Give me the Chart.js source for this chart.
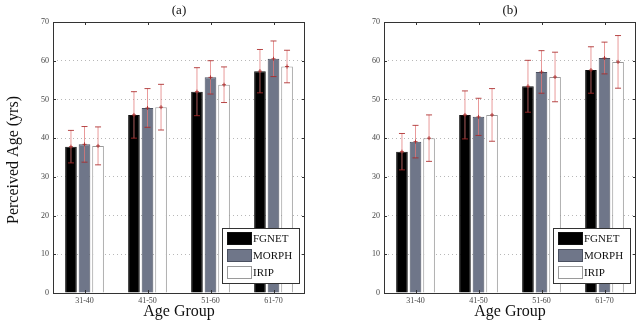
<!DOCTYPE html>
<html>
<head>
<meta charset="utf-8">
<script src="https://cdn.jsdelivr.net/npm/chart.js@4.4.1/dist/chart.umd.min.js"></script>
<style>
  html, body { margin: 0; padding: 0; background: #fff; }
  #wrap { position: relative; width: 640px; height: 321px; overflow: hidden; }
  canvas { position: absolute; top: 0; }
  #ca { left: 0; }
  #cb { left: 320px; }
</style>
</head>
<body>
<div id="wrap">
  <canvas id="ca" width="320" height="321"></canvas>
  <canvas id="cb" width="320" height="321"></canvas>
</div>
<script>
// ---- data ----
const categories = ['31-40', '41-50', '51-60', '61-70'];
const seriesNames = ['FGNET', 'MORPH', 'IRIP'];
const yTicks = [0, 10, 20, 30, 40, 50, 60, 70];

const aFGNET = [37.8, 46.0, 52.0, 57.3];
const aFGNETerr = [4.2, 6.0, 6.2, 5.6];
const aMORPH = [38.4, 47.8, 55.7, 60.5];
const aMORPHerr = [4.6, 5.0, 4.3, 4.6];
const aIRIP = [38.0, 48.0, 53.8, 58.5];
const aIRIPerr = [4.9, 5.9, 4.6, 4.2];

const bFGNET = [36.5, 46.0, 53.4, 57.6];
const bFGNETerr = [4.7, 6.2, 6.7, 6.0];
const bMORPH = [39.1, 45.5, 57.1, 60.7];
const bMORPHerr = [4.2, 4.8, 5.5, 4.1];
const bIRIP = [40.0, 46.0, 55.8, 59.7];
const bIRIPerr = [6.0, 6.8, 6.4, 6.8];

const panelTitles = ['(a)', '(b)'];
const xTitle = 'Age Group';
const yTitle = 'Perceived Age (yrs)';

// ---- styles ----
const SERIF = '"Liberation Serif", "DejaVu Serif", serif';
const fills = ['#000000', '#6f7689', '#ffffff'];
const edges = ['#111111', '#4a5060', '#9a9a9a'];

const panelPlugin = {
  id: 'panel',
  afterDatasetsDraw(chart, args, opts) {
    const ctx = chart.ctx;
    const ya = chart.scales.y, xa = chart.scales.x;
    const ca = chart.chartArea;
    ctx.save();
    // error bars
    chart.data.datasets.forEach((ds, di) => {
      const meta = chart.getDatasetMeta(di);
      meta.data.forEach((bar, j) => {
        const v = ds.data[j], e = ds.err[j];
        const x = bar.x;
        const yt = ya.getPixelForValue(v + e);
        const yb = ya.getPixelForValue(v - e);
        const yc = ya.getPixelForValue(v);
        ctx.strokeStyle = 'rgba(225,120,120,0.75)';
        ctx.lineWidth = 1;
        ctx.beginPath(); ctx.moveTo(x, yt); ctx.lineTo(x, yb); ctx.stroke();
        ctx.strokeStyle = 'rgba(170,40,40,0.85)';
        ctx.beginPath();
        ctx.moveTo(x - 3, yt); ctx.lineTo(x + 3, yt);
        ctx.moveTo(x - 3, yb); ctx.lineTo(x + 3, yb);
        ctx.moveTo(x - 2, yc); ctx.lineTo(x + 2, yc);
        ctx.moveTo(x, yc - 2); ctx.lineTo(x, yc + 2);
        ctx.stroke();
      });
    });
    // frame
    ctx.strokeStyle = '#333';
    ctx.lineWidth = 1;
    ctx.strokeRect(Math.round(ca.left) + 0.5, Math.round(ca.top) + 0.5,
                   Math.round(ca.right - ca.left) - 1, Math.round(ca.bottom - ca.top));
    // inward tick marks
    ctx.beginPath();
    yTicks.forEach(t => {
      const y = Math.round(ya.getPixelForValue(t)) + 0.5;
      ctx.moveTo(ca.left, y); ctx.lineTo(ca.left + 3, y);
      ctx.moveTo(ca.right, y); ctx.lineTo(ca.right - 3, y);
    });
    categories.forEach((c, i) => {
      const x = Math.round(xa.getPixelForValue(i)) + 0.5;
      ctx.moveTo(x, ca.top); ctx.lineTo(x, ca.top + 3);
      ctx.moveTo(x, ca.bottom); ctx.lineTo(x, ca.bottom - 3);
    });
    ctx.stroke();
    // legend
    const bw = 77, bh = 55;
    const bx = Math.round(ca.right - 6 - bw), by = Math.round(ca.bottom - 10 - bh);
    ctx.fillStyle = '#fff';
    ctx.fillRect(bx, by, bw, bh);
    ctx.strokeStyle = '#333';
    ctx.strokeRect(bx + 0.5, by + 0.5, bw, bh);
    ctx.font = '11px ' + SERIF;
    ctx.textBaseline = 'middle';
    ctx.textAlign = 'left';
    chart.data.datasets.forEach((ds, di) => {
      const sy = by + 4 + di * 17;
      ctx.fillStyle = fills[di];
      ctx.fillRect(bx + 5, sy, 24, 12);
      ctx.strokeStyle = edges[di];
      ctx.strokeRect(bx + 5.5, sy + 0.5, 24, 12);
      ctx.fillStyle = '#111';
      ctx.fillText(ds.label, bx + 31, sy + 7);
    });
    // titles
    ctx.fillStyle = '#111';
    ctx.textAlign = 'center';
    ctx.font = '13px ' + SERIF;
    ctx.fillText(opts.title, (ca.left + ca.right) / 2, 11);
    ctx.font = '16px ' + SERIF;
    ctx.fillText(xTitle, (ca.left + ca.right) / 2, 312);
    if (opts.showY) {
      ctx.save();
      ctx.translate(14, 160);
      ctx.rotate(-Math.PI / 2);
      ctx.fillText(yTitle, 0, 0);
      ctx.restore();
    }
    ctx.restore();
  }
};

function makeChart(id, vals, errs, title, showY, yWidth, padRight) {
  const datasets = seriesNames.map((n, i) => ({
    label: n,
    data: vals[i],
    err: errs[i],
    backgroundColor: fills[i],
    borderColor: edges[i],
    borderWidth: 1,
    categoryPercentage: 0.645,
    barPercentage: 0.86
  }));
  return new Chart(document.getElementById(id), {
    type: 'bar',
    data: { labels: categories, datasets },
    plugins: [panelPlugin],
    options: {
      responsive: false,
      animation: false,
      layout: { padding: { left: 0, top: 22, right: padRight, bottom: 0 } },
      plugins: {
        legend: { display: false },
        tooltip: { enabled: false },
        panel: { title, showY }
      },
      scales: {
        x: {
          grid: { display: false },
          border: { display: false },
          ticks: { color: '#444', font: { family: SERIF, size: 8 }, padding: -5, maxRotation: 0 },
          afterFit(s) { s.height = 28; }
        },
        y: {
          min: 0, max: 70,
          afterBuildTicks(s) { s.ticks = yTicks.map(v => ({ value: v })); },
          grid: {
            drawTicks: false,
            color: c => (c.tick && (c.tick.value === 0 || c.tick.value === 70)) ? 'rgba(0,0,0,0)' : '#b8b8b8',
            lineWidth: 1
          },
          border: { display: false, dash: [1, 3] },
          ticks: { color: '#444', font: { family: SERIF, size: 8 }, padding: 4 },
          afterFit(s) { s.width = yWidth; }
        }
      }
    }
  });
}

makeChart('ca', [aFGNET, aMORPH, aIRIP], [aFGNETerr, aMORPHerr, aIRIPerr], panelTitles[0], true, 53, 15);
makeChart('cb', [bFGNET, bMORPH, bIRIP], [bFGNETerr, bMORPHerr, bIRIPerr], panelTitles[1], false, 64, 4);
</script>
</body>
</html>
